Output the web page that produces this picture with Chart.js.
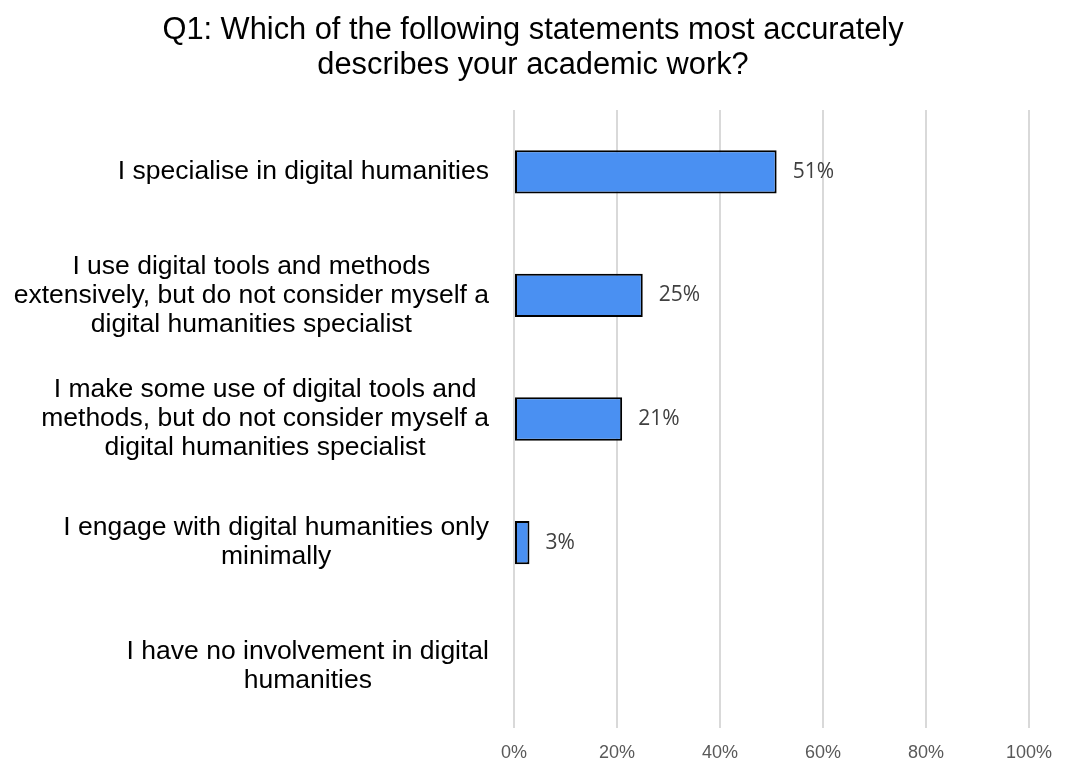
<!DOCTYPE html>
<html>
<head>
<meta charset="utf-8">
<script src="https://cdn.jsdelivr.net/npm/chart.js@4.4.0/dist/chart.umd.min.js"></script>
<style>
  html, body { margin: 0; padding: 0; background: #fff; }
  #wrap { width: 1066px; height: 764px; position: relative; }
</style>
</head>
<body>
<div id="wrap"><canvas id="q1Chart"></canvas></div>
<script>
// chart data
const titleLines = ['Q1: Which of the following statements most accurately', 'describes your academic work?'];
const categories = [
    ['I specialise in digital humanities'],
    ['I use digital tools and methods', 'extensively, but do not consider myself a', 'digital humanities specialist'],
    ['I make some use of digital tools and', 'methods, but do not consider myself a', 'digital humanities specialist'],
    ['I engage with digital humanities only', 'minimally'],
    ['I have no involvement in digital', 'humanities']
];
const shares = [51, 25, 21, 3, 0];
const xTicks = [0, 20, 40, 60, 80, 100];

const barColor = '#4A90F2';
const gridColor = '#D9D9D9';
const tickColor = '#595959';
const labelFont = '"Liberation Sans", Arial, sans-serif';

// title, centred on the whole canvas
const titlePlugin = {
    id: 'titleText',
    afterDraw(chart) {
        const ctx = chart.ctx;
        ctx.save();
        ctx.font = '30.8px ' + labelFont;
        ctx.fillStyle = '#000';
        ctx.textAlign = 'center';
        ctx.textBaseline = 'middle';
        titleLines.forEach((l, i) => ctx.fillText(l, chart.width / 2, 31 + i * 35));
        ctx.restore();
    }
};

// category labels: block right-aligned at the axis, lines centred inside it
const categoryLabels = {
    id: 'categoryLabels',
    afterDraw(chart) {
        const ctx = chart.ctx;
        const yScale = chart.scales.y;
        const rightEdge = 489;
        const lineH = 29;
        ctx.save();
        ctx.font = '26.5px ' + labelFont;
        ctx.fillStyle = '#000';
        ctx.textAlign = 'center';
        ctx.textBaseline = 'middle';
        categories.forEach((lines, i) => {
            const y = yScale.getPixelForValue(i);
            const widest = Math.max(...lines.map(l => ctx.measureText(l).width));
            const cx = rightEdge - widest / 2;
            const y0 = y - (lines.length - 1) * lineH / 2;
            lines.forEach((l, j) => ctx.fillText(l, cx, y0 + j * lineH));
        });
        ctx.restore();
    }
};

// value labels to the right of each bar
const valueLabels = {
    id: 'valueLabels',
    afterDatasetsDraw(chart) {
        const ctx = chart.ctx;
        const meta = chart.getDatasetMeta(0);
        ctx.save();
        ctx.font = '21px "Open Sans", sans-serif';
        ctx.fillStyle = '#404040';
        ctx.textAlign = 'left';
        ctx.textBaseline = 'middle';
        meta.data.forEach((bar, i) => {
            if (!shares[i]) return;
            ctx.fillText(shares[i] + '%', bar.x + 16, bar.y);
        });
        ctx.restore();
    }
};

new Chart(document.getElementById('q1Chart'), {
    type: 'bar',
    data: {
        labels: categories,
        datasets: [{
            data: shares,
            backgroundColor: barColor,
            borderColor: '#000',
            borderWidth: ctx => (ctx.raw > 0 ? 2 : 0),
            borderSkipped: false,
            barPercentage: 0.35,
            categoryPercentage: 1
        }]
    },
    options: {
        indexAxis: 'y',
        responsive: true,
        maintainAspectRatio: false,
        animation: false,
        layout: { padding: { left: 0, right: 36, top: 110, bottom: 0 } },
        plugins: {
            legend: { display: false },
            tooltip: { enabled: false },
            title: { display: false }
        },
        scales: {
            x: {
                min: 0,
                max: 100,
                afterBuildTicks: s => { s.ticks = xTicks.map(v => ({ value: v })); },
                afterFit: s => { s.height = 36; },
                grid: { color: gridColor, lineWidth: 2, drawTicks: false },
                border: { display: false },
                ticks: {
                    color: tickColor,
                    padding: 14,
                    maxRotation: 0,
                    font: { family: labelFont, size: 18 },
                    callback: v => v + '%'
                }
            },
            y: {
                grid: { display: false },
                border: { display: false },
                ticks: { display: false },
                afterFit: s => { s.width = 514; }
            }
        }
    },
    plugins: [titlePlugin, categoryLabels, valueLabels]
});
</script>
</body>
</html>
